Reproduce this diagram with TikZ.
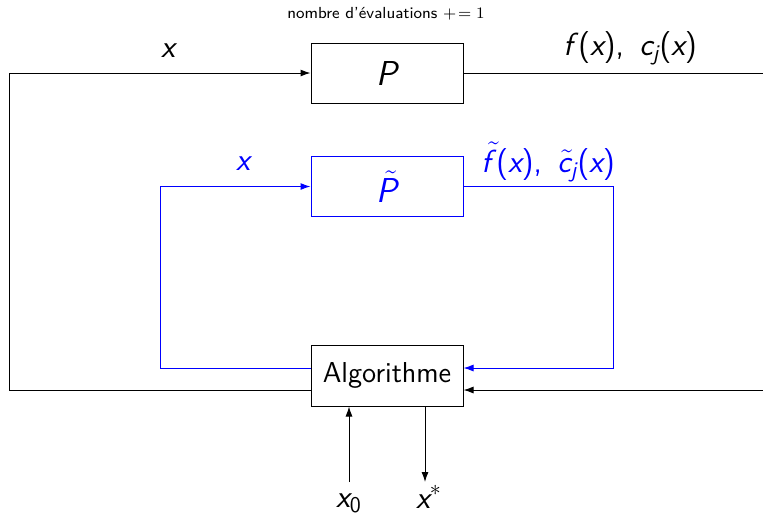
\documentclass[tikz,border=0pt]{standalone}
\usepackage{amsmath}
\usetikzlibrary{arrows.meta,positioning}
\newcommand\iv[1]{{\sffamily\itshape #1}}
\tikzset{
 bloc/.style={draw,minimum width=76pt,minimum height=30pt,inner sep=0pt},
 fleche/.style={-{Latex[length=5pt,width=3.5pt]}},
 etiq/.style={font=\sffamily\fontsize{16}{19}\selectfont,inner sep=1pt},
}

\begin{document}
\begin{tikzpicture}[x=0.5pt,y=-0.5pt,font=\sffamily,line width=0.5pt]
\useasboundingbox (0,0) rectangle (763,516);
% blocs
\node[bloc,font=\sffamily\LARGE] (P) at (387,73) {\iv{P}};
\node[bloc,font=\sffamily\LARGE,blue] (Pt) at (387,186.5) {$\skew{4}\tilde{\text{\iv{P}}}$};
\node[bloc,minimum height=30.5pt,font=\sffamily\Large] (alg) at (387,375.5) {Algorithme};
\node[font=\sffamily\footnotesize] (compteur) at (386,14) {nombre d'évaluations $+\!=1$};
% boucle du vrai probleme
\coordinate (gB) at (9,390);
\coordinate (dH) at (763,73);
\coordinate (dB) at (763,390);
\draw[fleche] (gB -| alg.west) -- (gB) |- (P.west);
\draw (P.east) -- (dH);
\draw[fleche] (dB) -- (dB -| alg.east);
\node[etiq] (xP) at (168,51) {\iv{x}};
\node[etiq] (fP) at (630,48) {\iv{f\/}(\iv{x}),\ \,\iv{c}$_{\text{\iv{j}}}$(\iv{x})};
% boucle du modele
\coordinate (bG) at (160,368);
\coordinate (bD) at (613,368);
\draw[blue,fleche] (bG -| alg.west) -- (bG) |- (Pt.west);
\draw[blue,fleche] (Pt.east) -| (bD) -- (bD -| alg.east);
\node[etiq,blue] (xPt) at (243,164) {\iv{x}};
\node[etiq,blue] (fPt) at (548,162) {$\skew{5}\tilde{\text{\iv{f\/}}}$(\iv{x}),\ \,$\skew{3}\tilde{\text{\iv{c}}}_{\text{\iv{j}}}$(\iv{x})};
% entree et sortie
\coordinate (entree) at (349,482);
\coordinate (sortie) at (425,482);
\draw[fleche] (entree) -- (entree |- alg.south);
\draw[fleche] (sortie |- alg.south) -- (sortie);
\node[etiq] (x0) at (349,503) {\iv{x}$_{\text{0}}$};
\node[etiq] (xs) at (429,497) {\iv{x}$^{*}$};
\end{tikzpicture}
\end{document}
